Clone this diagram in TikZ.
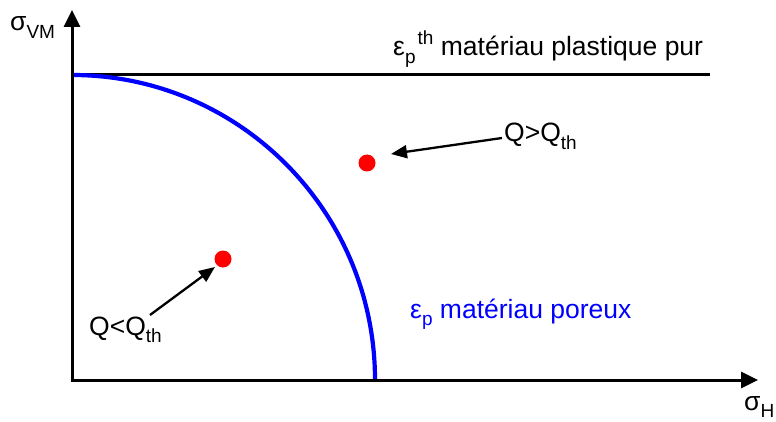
\documentclass[tikz,border=0pt]{standalone}
\usepackage{fontspec}
\setmainfont{Liberation Sans}
\usetikzlibrary{arrows.meta}
\newcommand\lowsub[1]{\raisebox{-0.3em}{\fontsize{19}{19}\selectfont #1}}
\newcommand\highsup[1]{\raisebox{0.42em}{\fontsize{19}{19}\selectfont #1}}
\begin{document}
\begin{tikzpicture}[x=1pt,y=-1pt,
  axis/.style={line width=3pt,-{Triangle[length=17pt,width=16pt]}},
  pointer/.style={line width=2.3pt,-{Triangle[length=16pt,width=13pt]}},
  lbl/.style={anchor=base west,inner sep=0pt,font=\fontsize{26.5}{26.5}\selectfont},
  dot/.style={circle,fill=red,draw=none,minimum size=17pt,inner sep=0pt}]
\useasboundingbox (0,0) rectangle (776,422);
\coordinate (O) at (72,380);
\coordinate (ytip) at (72,10);
\coordinate (xtip) at (758,380);
\coordinate (lineend) at (710,75);
\coordinate (top) at (72,75);
\draw[line width=3pt] (top) -- (lineend);
\draw[blue,line width=4.2pt] (top) arc[start angle=90,end angle=0,x radius=303,y radius=-305];
\draw[axis] (72,381.5) -- (ytip);
\draw[axis] (70.5,380) -- (xtip);
\node[dot] (d1) at (367,163) {};
\node[dot] (d2) at (223,259) {};
\coordinate (a1s) at (502,138);
\coordinate (a2s) at (150,315);
\draw[pointer] (a1s) -- (391,154);
\draw[pointer] (a2s) -- (215,267);
\node[lbl] (sy) at (10,31) {σ\lowsub{VM}};
\node[lbl] (sx) at (744,410) {σ\lowsub{H}};
\node[lbl] (pur) at (393,56) {ε\lowsub{p}\kern0.08em\highsup{th} matériau plastique pur};
\node[lbl] (qg) at (504,142) {Q>Q\lowsub{th}};
\node[lbl] (ql) at (89,335) {Q<Q\lowsub{th}};
\node[lbl,text=blue] (por) at (410,318) {ε\lowsub{p} matériau poreux};
\end{tikzpicture}
\end{document}
